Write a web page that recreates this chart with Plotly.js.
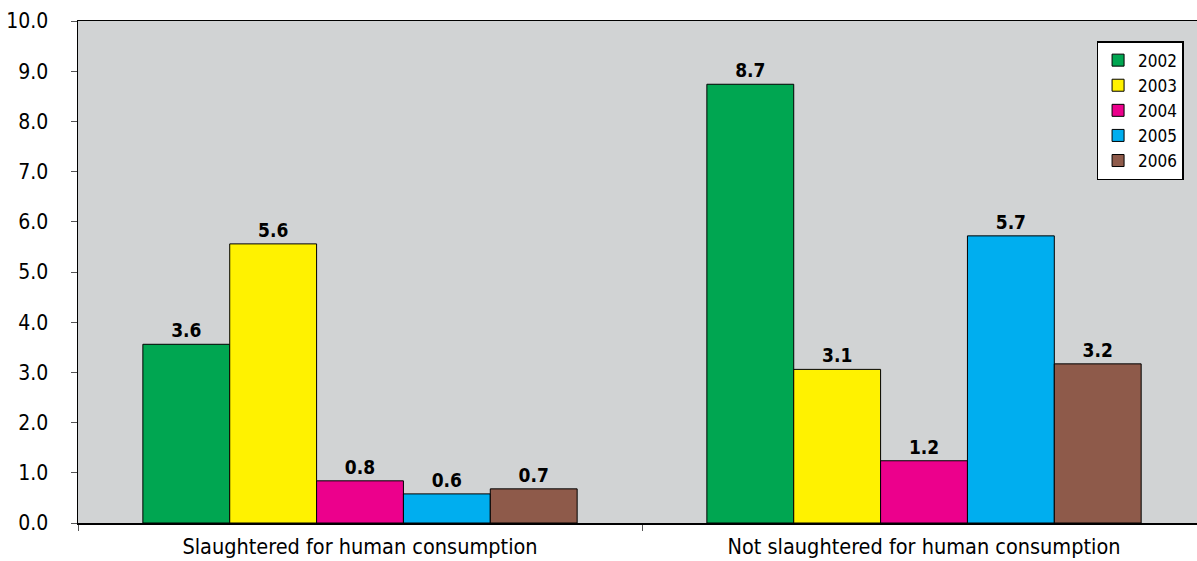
<!DOCTYPE html>
<html>
<head>
<meta charset="utf-8">
<script src="https://cdn.plot.ly/plotly-3.0.1.min.js"></script>
<style>html,body{margin:0;padding:0;background:#fff;}#chart{width:1197px;height:561px;}</style>
</head>
<body>
<div id="chart"></div>
<script>
const categories = ["Slaughtered for human consumption", "Not slaughtered for human consumption"];
const years = ["2002", "2003", "2004", "2005", "2006"];
const values2002 = [3.56, 8.74];
const values2003 = [5.56, 3.06];
const values2004 = [0.84, 1.24];
const values2005 = [0.58, 5.72];
const values2006 = [0.68, 3.17];
const seriesValues = [values2002, values2003, values2004, values2005, values2006];
const colors = ["#00a651", "#fff200", "#ec008c", "#00aeef", "#8e5a4a"];

const FONT = "DejaVu Sans Condensed, DejaVu Sans, sans-serif";

const traces = years.map((yr, i) => ({
  type: "bar",
  name: yr,
  x: categories,
  y: seriesValues[i],
  marker: {color: colors[i], line: {color: "#000", width: 1}},
  texttemplate: "%{y:.1f}",
  textposition: "outside",
  textfont: {family: FONT, size: 19, color: "#000", weight: "bold"},
  cliponaxis: false
}));

const layout = {
  width: 1197, height: 561,
  margin: {l: 78, r: 0, t: 21, b: 38, pad: 0},
  paper_bgcolor: "#ffffff",
  plot_bgcolor: "#d1d3d4",
  barmode: "group",
  bargap: 0.23,
  bargroupgap: 0,
  showlegend: true,
  legend: {
    x: 0.988, xanchor: "right", y: 0.96, yanchor: "top",
    bgcolor: "#ffffff", bordercolor: "#000", borderwidth: 1.5,
    font: {family: FONT, size: 17, color: "#000"},
    itemwidth: 30, tracegroupgap: 0
  },
  xaxis: {
    type: "category",
    range: [-0.5, 1.484],
    showline: true, linecolor: "#000", linewidth: 1.5, mirror: true,
    ticks: "outside", tickson: "boundaries", ticklen: 6, tickcolor: "#555",
    ticklabelstandoff: 4,
    showgrid: false, zeroline: false,
    tickfont: {family: FONT, size: 21.5, color: "#000"}
  },
  yaxis: {
    range: [0, 10], dtick: 1, tick0: 0, tickformat: ".1f",
    showline: true, linecolor: "#000", linewidth: 1.5,
    ticks: "outside", ticklen: 6, tickcolor: "#555",
    ticklabelstandoff: 18,
    showgrid: false, zeroline: false,
    tickfont: {family: FONT, size: 21, color: "#000"}
  }
};

Plotly.newPlot("chart", traces, layout, {staticPlot: true, displayModeBar: false});
</script>
</body>
</html>
